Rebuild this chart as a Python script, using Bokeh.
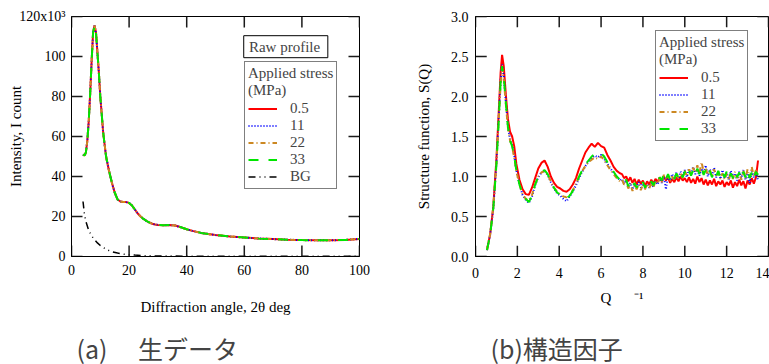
from bokeh.plotting import figure
from bokeh.layouts import row, column
from bokeh.models import (Range1d, FixedTicker, Legend, LegendItem, Label, BoxAnnotation,
                          NumeralTickFormatter)
from bokeh.embed import file_html
from bokeh.resources import INLINE

SERIF = "Liberation Serif"
CJK = "Noto Sans CJK JP"

# ---------------- (a) raw profile ----------------
two_theta = [4, 4.5, 5, 5.5, 6, 6.5, 7, 7.5, 8, 8.5, 9, 9.5, 10, 11, 12, 13, 14, 15, 16, 17,
             18, 19, 20, 21, 22, 23, 24, 25, 26, 27, 28, 29, 30, 32, 34, 36, 38, 40, 42, 45,
             50, 55, 60, 65, 70, 75, 80, 85, 90, 95, 100]
# intensity in units of 10^3 counts
intensity_05 = [51, 50.5, 52, 58, 68, 82, 98, 112, 115.5, 112, 102, 92, 80, 62, 50, 43, 37, 32,
                28.5, 27.5, 27.3, 27.2, 26.8, 25.5, 23.5, 21.5, 20, 18.8, 17.8, 17, 16.4, 16,
                15.8, 15.6, 15.7, 15.5, 14.6, 13.6, 12.8, 11.8, 10.7, 10.0, 9.5, 9.0, 8.7, 8.4,
                8.2, 8.1, 8.1, 8.3, 8.8]
intensity_11 = list(intensity_05)
intensity_22 = list(intensity_05)
intensity_33 = list(intensity_05)

two_theta_bg = [4, 4.5, 5, 6, 7, 8, 9, 10, 12, 14, 16, 18, 20, 22, 25, 28, 30, 35, 40, 50, 60,
                70, 80, 90, 100]
background = [27.5, 21, 17.5, 13, 10.3, 8.4, 6.8, 5.5, 3.6, 2.4, 1.7, 1.2, 0.9, 0.7, 0.45, 0.3,
              0.25, 0.2, 0.15, 0.1, 0.1, 0.1, 0.1, 0.1, 0.1]

x1_ticks = [0, 20, 40, 60, 80, 100]
y1_ticks = [0, 20, 40, 60, 80, 100, 120]
y1_tick_labels = {120: "120x10³"}

# ---------------- (b) structure factor ----------------
q = [0.55, 0.7, 0.85, 1.0, 1.1, 1.2, 1.27, 1.35, 1.45, 1.55, 1.65, 1.75, 1.85, 1.95, 2.1, 2.25,
     2.4, 2.55, 2.7, 2.85, 3.0, 3.15, 3.3, 3.45, 3.6, 3.75, 3.9, 4.05, 4.2, 4.35, 4.5, 4.65, 4.8,
     4.95, 5.1, 5.25, 5.4, 5.55, 5.7, 5.85, 6.0, 6.15, 6.3, 6.45, 6.6, 6.75, 6.9,
     7.0, 7.1, 7.2, 7.3, 7.4, 7.5, 7.6, 7.7, 7.8, 7.9, 8.0, 8.1, 8.2, 8.3, 8.4, 8.5, 8.6, 8.7,
     8.8, 8.9, 9.0, 9.1, 9.2, 9.3, 9.4, 9.5, 9.6, 9.7, 9.8, 9.9, 10.0, 10.1, 10.2, 10.3, 10.4,
     10.5, 10.6, 10.7, 10.8, 10.9, 11.0, 11.1, 11.2, 11.3, 11.4, 11.5, 11.6, 11.7, 11.8, 11.9,
     12.0, 12.1, 12.2, 12.3, 12.4, 12.5, 12.6, 12.7, 12.8, 12.9, 13.0, 13.1, 13.2, 13.3, 13.4,
     13.5]

s_05 = [0.08, 0.28, 0.62, 1.22, 1.75, 2.30, 2.52, 2.38, 2.02, 1.72, 1.56, 1.50, 1.38, 1.16, 0.96,
        0.84, 0.78, 0.77, 0.86, 0.98, 1.10, 1.17, 1.20, 1.12, 1.00, 0.92, 0.87, 0.85, 0.82, 0.81,
        0.84, 0.90, 0.98, 1.10, 1.20, 1.30, 1.36, 1.41, 1.37, 1.42, 1.38, 1.36, 1.27, 1.20, 1.12,
        1.07, 1.04,
        1.03, 0.98, 1.00, 0.94, 0.99, 0.92, 0.97, 0.90, 0.96, 0.91, 0.95, 0.88, 0.94, 0.90, 0.96,
        0.91, 0.97, 0.93, 0.99, 0.94, 1.00, 0.95, 0.99, 0.92, 0.97, 0.93, 0.99, 0.94, 1.00, 0.95,
        0.98, 0.93, 0.99, 0.92, 0.97, 0.91, 1.00, 0.93, 0.98, 0.90, 0.96, 0.89, 0.95, 0.90, 0.97,
        0.88, 0.94, 0.90, 0.95, 0.87, 0.93, 0.89, 0.95, 0.86, 0.93, 0.88, 0.96, 0.89, 0.94, 0.85,
        0.95, 0.90, 0.98, 0.91, 0.99, 1.20]
s_11 = [0.08, 0.27, 0.60, 1.17, 1.68, 2.20, 2.40, 2.26, 1.93, 1.63, 1.46, 1.39, 1.26, 1.08, 0.90,
        0.77, 0.71, 0.67, 0.75, 0.89, 0.99, 1.05, 1.07, 1.02, 0.93, 0.85, 0.79, 0.76, 0.72, 0.69,
        0.75, 0.81, 0.89, 0.98, 1.06, 1.13, 1.19, 1.23, 1.26, 1.24, 1.27, 1.22, 1.16, 1.10, 1.05,
        1.00, 0.95,
        0.97, 0.91, 0.95, 0.87, 0.92, 0.84, 0.90, 0.85, 0.93, 0.86, 0.91, 0.85, 0.90, 0.86, 0.92,
        0.87, 0.94, 0.90, 0.97, 0.92, 1.00, 0.84, 1.02, 0.95, 1.03, 0.96, 1.05, 0.97, 1.06, 1.00,
        1.08, 0.99, 1.10, 1.02, 1.12, 1.03, 1.09, 1.01, 1.10, 1.03, 1.14, 1.00, 1.09, 1.01, 1.11,
        0.99, 1.06, 0.97, 1.08, 0.98, 1.05, 0.96, 1.07, 0.99, 1.04, 0.95, 1.06, 0.98, 1.08, 0.96,
        1.04, 0.92, 1.07, 0.99, 1.05, 0.95]
s_22 = [0.09, 0.28, 0.62, 1.18, 1.66, 2.15, 2.35, 2.22, 1.90, 1.61, 1.45, 1.37, 1.24, 1.07, 0.90,
        0.78, 0.72, 0.70, 0.77, 0.90, 1.00, 1.05, 1.07, 1.02, 0.94, 0.86, 0.81, 0.78, 0.75, 0.74,
        0.77, 0.83, 0.91, 1.00, 1.07, 1.13, 1.18, 1.21, 1.24, 1.22, 1.25, 1.20, 1.14, 1.08, 1.03,
        0.98, 0.94,
        0.96, 0.90, 0.93, 0.85, 0.91, 0.82, 0.89, 0.84, 0.90, 0.83, 0.90, 0.84, 0.91, 0.85, 0.92,
        0.86, 0.95, 0.91, 0.98, 0.93, 1.02, 0.96, 1.01, 0.94, 1.00, 0.95, 1.03, 0.97, 1.04, 0.98,
        1.07, 1.00, 1.09, 1.03, 1.11, 1.05, 1.14, 1.04, 1.18, 1.06, 1.10, 1.02, 1.08, 1.00, 1.09,
        1.01, 1.06, 0.97, 1.04, 0.96, 1.03, 0.95, 1.05, 0.97, 1.06, 0.98, 1.04, 0.96, 1.07, 0.98,
        1.09, 0.99, 1.12, 1.00, 1.08, 1.00]
s_33 = [0.08, 0.27, 0.60, 1.15, 1.65, 2.18, 2.38, 2.25, 1.92, 1.62, 1.45, 1.38, 1.25, 1.08, 0.90,
        0.78, 0.72, 0.68, 0.76, 0.90, 1.00, 1.06, 1.08, 1.03, 0.94, 0.86, 0.80, 0.77, 0.74, 0.73,
        0.76, 0.82, 0.90, 1.00, 1.08, 1.15, 1.20, 1.25, 1.28, 1.30, 1.29, 1.25, 1.18, 1.12, 1.06,
        1.00, 0.96,
        0.98, 0.93, 0.96, 0.88, 0.93, 0.87, 0.92, 0.86, 0.91, 0.87, 0.93, 0.86, 0.92, 0.88, 0.94,
        0.89, 0.96, 0.92, 0.99, 0.95, 1.04, 0.97, 1.03, 0.96, 1.02, 0.97, 1.04, 0.98, 1.05, 0.99,
        1.06, 1.00, 1.07, 1.01, 1.08, 1.02, 1.10, 1.03, 1.12, 1.02, 1.08, 1.01, 1.07, 0.99, 1.06,
        1.00, 1.07, 0.98, 1.05, 0.99, 1.06, 0.97, 1.04, 0.98, 1.07, 0.99, 1.05, 0.97, 1.06, 0.99,
        1.08, 0.98, 1.05, 0.97, 1.06, 1.02]

x2_ticks = [0, 2, 4, 6, 8, 10, 12, 14]
y2_ticks = [0, 0.5, 1.0, 1.5, 2.0, 2.5, 3.0]

stress_labels = ["0.5", "11", "22", "33"]
colors = ["#ff0000", "#0000ff", "#cc8822", "#00e600"]
dashes = ["solid", "1 2", "5 3 1 3", "10 10"]

captions = ["(a)\u3000 生データ", "(b)構造因子"]

TICK_PX = 11


def style_axis(ax, ticks):
    ax.ticker = FixedTicker(ticks=ticks)
    ax.major_tick_in = 0
    ax.major_tick_out = 0
    ax.minor_tick_line_color = None
    ax.axis_line_color = "black"
    ax.major_label_text_font = SERIF
    ax.major_label_text_font_size = "14px"
    ax.major_label_text_color = "black"
    ax.axis_label_text_font = SERIF
    ax.axis_label_text_font_size = "15px"
    ax.axis_label_text_font_style = "normal"
    ax.axis_label_text_color = "black"


def inner_ticks(p, xt, yt, frame_w, frame_h):
    """Inward tick marks on all four sides, placed through the plot's own scales."""
    x0, x1 = p.x_range.start, p.x_range.end
    y0, y1 = p.y_range.start, p.y_range.end
    dx = (x1 - x0) * TICK_PX / frame_w
    dy = (y1 - y0) * TICK_PX / frame_h
    kw = dict(line_color="#1a1a1a", line_width=1.5)
    n, m = len(xt), len(yt)
    p.segment(x0=xt, y0=[y0] * n, x1=xt, y1=[y0 + dy] * n, **kw)
    p.segment(x0=xt, y0=[y1] * n, x1=xt, y1=[y1 - dy] * n, **kw)
    p.segment(x0=[x0] * m, y0=yt, x1=[x0 + dx] * m, y1=yt, **kw)
    p.segment(x0=[x1] * m, y0=yt, x1=[x1 - dx] * m, y1=yt, **kw)


def style_legend(leg):
    leg.label_text_font = SERIF
    leg.label_text_font_size = "15px"
    leg.title_text_font = SERIF
    leg.title_text_font_size = "15px"
    leg.title_text_font_style = "normal"
    leg.border_line_color = "black"
    leg.border_line_width = 1
    leg.padding = 3
    leg.spacing = 0
    leg.margin = 0
    leg.glyph_width = 29
    leg.glyph_height = 17
    leg.label_height = 17
    leg.label_standoff = 13
    leg.title_standoff = 1
    leg.background_fill_alpha = 1


# ---------------- figure (a) ----------------
p1 = figure(width=380, height=326, x_range=Range1d(0, 100), y_range=Range1d(0, 120),
            output_backend="svg", toolbar_location=None,
            min_border_left=71, min_border_right=21, min_border_top=16, min_border_bottom=70)
p1.grid.visible = False
p1.outline_line_color = "black"
style_axis(p1.xaxis[0], x1_ticks)
style_axis(p1.yaxis[0], y1_ticks)
p1.xaxis[0].axis_label = "Diffraction angle, 2θ deg"
p1.xaxis[0].axis_label_standoff = 21
p1.xaxis[0].major_label_standoff = 8
p1.yaxis[0].axis_label = "Intensity, I count"
p1.yaxis[0].axis_label_standoff = -8
p1.yaxis[0].major_label_standoff = 6
p1.yaxis[0].major_label_overrides = y1_tick_labels

series1 = [intensity_05, intensity_11, intensity_22, intensity_33]
rends1 = []
for ys, c, d in zip(series1, colors, dashes):
    rends1.append(p1.line(two_theta, ys, line_color=c, line_width=2, line_dash=d))
r_bg = p1.line(two_theta_bg, background, line_color="black", line_width=1.5,
               line_dash="7 4 1 4 1 4")
inner_ticks(p1, x1_ticks, y1_ticks, 288, 240)

leg1 = Legend(items=[LegendItem(label=l, renderers=[r]) for l, r in zip(stress_labels, rends1)]
              + [LegendItem(label="BG", renderers=[r_bg])],
              location=(173, 67), title="Applied stress\n(MPa)")
style_legend(leg1)
p1.add_layout(leg1)

p1.add_layout(BoxAnnotation(left=59.8, right=89.0, bottom=99.4, top=110.4,
                            fill_color="white", fill_alpha=1, line_color="black",
                            line_width=1, line_alpha=1))
p1.add_layout(Label(x=61.6, y=104.9, text="Raw profile", text_font=SERIF,
                    text_font_size="15px", text_baseline="middle"))

# ---------------- figure (b) ----------------
p2 = figure(width=389, height=326, x_range=Range1d(0, 14), y_range=Range1d(0, 3),
            output_backend="svg", toolbar_location=None,
            min_border_left=95, min_border_right=1, min_border_top=16, min_border_bottom=66)
p2.grid.visible = False
p2.outline_line_color = "black"
style_axis(p2.xaxis[0], x2_ticks)
style_axis(p2.yaxis[0], y2_ticks)
p2.xaxis[0].axis_label = "Q\u2003\u2002⁻¹"
p2.xaxis[0].axis_label_standoff = 9
p2.xaxis[0].major_label_standoff = 11
p2.yaxis[0].axis_label = "Structure function, S(Q)"
p2.yaxis[0].axis_label_standoff = 16
p2.yaxis[0].major_label_standoff = 7
p2.yaxis[0].formatter = NumeralTickFormatter(format="0.0")

series2 = [s_05, s_11, s_22, s_33]
rends2 = []
for ys, c, d in zip(series2, colors, dashes):
    rends2.append(p2.line(q, ys, line_color=c, line_width=2, line_dash=d))
inner_ticks(p2, x2_ticks, y2_ticks, 287, 244)

leg2 = Legend(items=[LegendItem(label=l, renderers=[r]) for l, r in zip(stress_labels, rends2)],
              location=(180, 115), title="Applied stress\n(MPa)")
style_legend(leg2)
p2.add_layout(leg2)

# ---------------- captions strip ----------------
cap = figure(width=769, height=38, x_range=Range1d(0, 769), y_range=Range1d(0, 38),
             x_axis_type=None, y_axis_type=None, output_backend="svg", toolbar_location=None,
             min_border_left=0, min_border_right=0, min_border_top=0, min_border_bottom=0)
cap.grid.visible = False
cap.outline_line_color = None
cap.add_layout(Label(x=76, y=17, text=captions[0], text_font=CJK, text_font_size="25px",
                     text_baseline="middle"))
cap.add_layout(Label(x=490, y=17, text=captions[1], text_font=CJK, text_font_size="25px",
                     text_baseline="middle"))

layout = column(row(p1, p2), cap)
open("out.html", "w").write(file_html(layout, INLINE))
